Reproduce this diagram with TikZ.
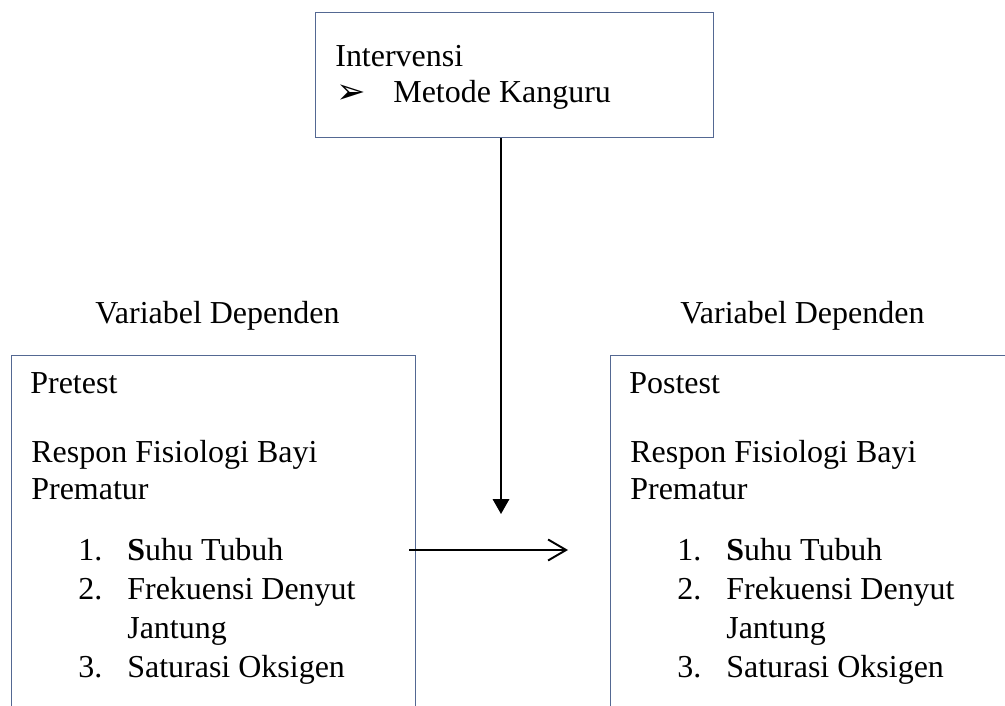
\documentclass[tikz,border=0pt]{standalone}
\usepackage{fontspec}
\setmainfont{Liberation Serif}
\newfontfamily\dingfont{DejaVu Sans}
\usepackage{xcolor}
\usetikzlibrary{positioning, arrows.meta}
\definecolor{boxline}{RGB}{84,104,146}

\begin{document}
\begin{tikzpicture}[
    x=0.02cm, y=-0.02cm,
    every node/.style={font=\fontsize{18.2}{22}\selectfont, inner sep=0pt},
    frame/.style={rectangle, draw=boxline, line width=0.6pt, anchor=north west},
    txt/.style={anchor=base west},
    flow/.style={draw=black, line width=1.1pt}
]
\useasboundingbox (0,0) rectangle (1005,706);
\clip (0,0) rectangle (1005,706);

% Boxes
\node[frame, minimum width=7.96cm, minimum height=2.5cm] (interv) at (315,12) {};
\node[frame, minimum width=8.08cm, minimum height=8cm] (pre) at (11,355) {};
\node[frame, minimum width=10cm, minimum height=8cm] (post) at (610,355) {};

% Intervention
\node[txt] (intlbl) at (335,67) {Intervensi};
\node[txt] (bullet) at (336,104) {\dingfont\fontsize{20}{22}\selectfont ➢};
\node[txt] (kanguru) at (393,103) {Metode Kanguru};

% Headings
\node[txt] (prehead) at (95,323) {Variabel Dependen};
\node[txt] (posthead) at (680,323) {Variabel Dependen};

% Pretest box
\node[txt] (pretitle) at (30,393) {Pretest};
\node[txt] (prerespA) at (31,462) {Respon Fisiologi Bayi};
\node[txt] (prerespB) at (31,499) {Prematur};
\node[txt] (prenumA) at (78,560) {1.};
\node[txt] (prenumB) at (78,599) {2.};
\node[txt] (prenumC) at (78,677) {3.};
\node[txt] (preitemA) at (127,560) {\textbf{S}uhu Tubuh};
\node[txt] (preitemB) at (127,599) {Frekuensi Denyut};
\node[txt] (preitemBB) at (127,638) {Jantung};
\node[txt] (preitemC) at (127,677) {Saturasi Oksigen};

% Postest box
\node[txt] (posttitle) at (629,393) {Postest};
\node[txt] (postrespA) at (630,462) {Respon Fisiologi Bayi};
\node[txt] (postrespB) at (630,499) {Prematur};
\node[txt] (postnumA) at (677,560) {1.};
\node[txt] (postnumB) at (677,599) {2.};
\node[txt] (postnumC) at (677,677) {3.};
\node[txt] (postitemA) at (726,560) {\textbf{S}uhu Tubuh};
\node[txt] (postitemB) at (726,599) {Frekuensi Denyut};
\node[txt] (postitemBB) at (726,638) {Jantung};
\node[txt] (postitemC) at (726,677) {Saturasi Oksigen};

% Arrows
\coordinate (vtip) at (501,514);
\coordinate (hstart) at (409,550);
\coordinate (hend) at (568,550);
\draw[flow, -{Triangle[length=0.3cm, width=0.33cm]}] (interv.south -| vtip) -- (vtip);
\draw[flow, -{Straight Barb[length=0.36cm, width=0.42cm]}] (hstart) -- (hend);

\end{tikzpicture}
\end{document}
